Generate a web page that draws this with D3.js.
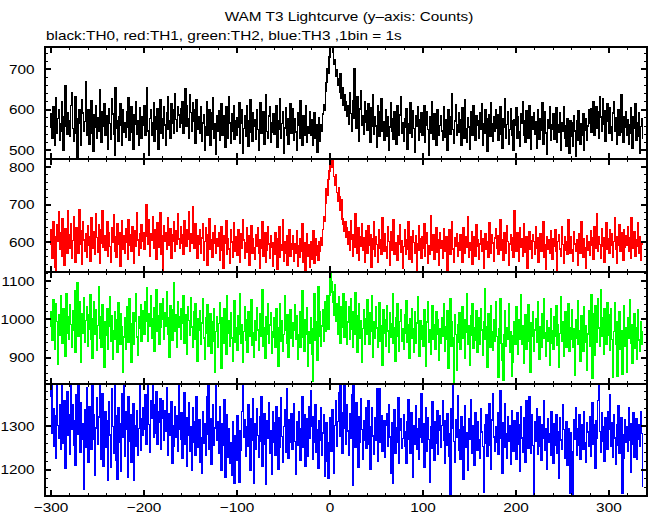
<!DOCTYPE html>
<html><head><meta charset="utf-8">
<script src="https://cdn.jsdelivr.net/npm/d3@7"></script>
<style>html,body{margin:0;padding:0;background:#fff;} svg{display:block;}</style>
</head><body><svg id="c" width="652" height="515"></svg>
<script>
const titleText = "WAM T3 Lightcurve (y\u2013axis: Counts)";
const subtitleText = "black:TH0, red:TH1, green:TH2, blue:TH3 ,1bin = 1s";
const binStart = -301;   // time of first bin (s)
const binWidth = 1;      // 1 bin = 1 s
const seriesNames = ["TH0", "TH1", "TH2", "TH3"];
const seriesColors = ["#000000", "#ff0000", "#00ff00", "#0000ff"];
const xDomain = [-306.5, 341];
const xTickLabels = [-300, -200, -100, 0, 100, 200, 300];
const yDomains = [[478, 755], [521, 822], [832, 1125], [1140, 1397]];
const yTickLabels = [[500, 600, 700], [600, 700, 800], [900, 1000, 1100], [1200, 1300]];

const th0 = [
558,590,531,608,575,513,629,543,579,600,526,566,620,548,501,583,659,559,540,593,
573,534,611,642,554,523,586,631,543,478,578,601,566,512,625,592,547,571,670,537,
562,599,516,573,622,541,498,589,557,610,531,580,548,649,569,519,596,559,614,536,
552,585,502,603,566,527,627,590,540,487,655,573,555,522,582,615,561,512,600,545,
569,533,594,557,629,524,576,607,544,503,589,564,620,540,572,513,604,555,529,582,
561,611,536,587,655,548,488,578,599,538,568,618,523,583,552,603,502,573,625,543,
579,531,608,562,512,592,631,551,572,529,615,566,599,541,639,576,547,607,587,558,
603,568,621,541,590,652,560,611,578,530,637,593,548,617,571,599,518,624,583,553,
583,543,608,522,568,589,501,559,620,537,576,600,513,552,593,629,531,566,490,585,
548,597,526,573,614,538,561,585,508,607,555,530,632,568,517,590,547,610,527,572,
537,580,557,617,517,566,599,494,554,586,534,611,561,510,573,625,544,523,592,559,
575,527,601,551,501,582,618,541,564,594,515,558,638,547,531,585,608,520,569,544,
590,540,561,611,508,573,551,628,529,566,596,493,555,604,537,578,516,571,615,541,
558,603,524,579,545,499,592,562,530,622,554,512,585,538,572,611,520,559,543,594,
538,575,513,554,593,530,563,496,545,580,523,563,548,590,612,598,645,668,702,689,
730,762,758,770,741,712,724,683,698,661,676,643,690,628,655,612,637,598,621,584,
610,565,642,591,546,623,578,701,597,554,631,572,523,602,648,563,585,539,619,569,
597,550,616,571,520,605,559,636,539,584,560,508,611,576,535,595,627,546,570,524,
566,601,534,583,501,558,617,547,579,527,594,562,515,610,552,536,587,631,543,569,
523,578,557,603,503,566,541,618,572,533,597,554,495,585,559,608,526,575,545,592,
538,571,611,519,562,596,551,488,582,543,620,565,527,590,557,512,600,573,537,561,
586,548,524,607,568,533,576,499,599,559,540,583,640,552,517,573,613,536,562,593,
544,575,513,604,565,531,625,554,520,580,558,503,596,571,538,611,550,526,585,561,
573,529,592,552,615,512,565,541,600,578,498,557,587,534,618,566,523,582,547,599,
555,587,524,571,608,540,506,579,558,628,531,564,596,515,552,603,573,537,499,576,
561,606,530,582,545,510,590,566,621,537,572,519,597,557,531,610,562,502,583,551,
592,540,571,506,600,559,527,579,550,617,516,568,594,543,491,575,555,607,526,562,
552,590,528,573,605,519,562,544,593,499,568,548,608,530,561,510,579,541,493,572,
535,567,509,586,548,485,574,524,598,553,516,565,538,590,499,549,577,525,560,601,
568,603,545,585,620,537,578,608,555,594,529,633,582,548,627,564,597,523,575,614,
573,541,604,558,526,592,621,547,580,515,571,601,537,562,636,544,519,583,557,596,
537,575,516,564,604,543,505,583,555,614,524,568,534,592,492,559,579,530
];

const th1 = [
595,632,557,654,615,532,499,647,602,682,580,625,562,662,592,539,636,609,571,685,
619,583,650,556,604,669,587,546,637,612,570,686,594,629,541,655,606,576,623,560,
643,592,615,549,665,583,627,602,566,675,612,573,646,542,597,633,684,585,616,578,
606,654,563,625,588,545,637,599,672,576,613,560,650,595,626,536,605,658,581,618,
569,636,599,553,661,592,619,574,641,609,542,629,590,678,605,564,623,584,647,602,
626,580,615,700,641,595,660,563,622,606,668,583,633,599,553,653,613,587,679,566,
617,524,644,601,625,580,665,612,591,636,557,619,602,654,576,629,595,676,608,583,
641,598,620,567,658,615,590,633,608,682,574,623,597,695,627,583,648,604,557,616,
594,632,571,611,650,550,601,637,584,538,619,662,581,605,559,626,597,644,569,609,
590,625,550,601,641,579,530,617,596,657,566,608,582,543,634,600,559,653,589,576,
613,564,632,595,546,622,584,661,605,557,598,639,573,618,539,592,644,570,608,585,
554,619,589,637,571,530,607,584,654,563,600,624,546,578,640,595,557,616,586,536,
598,566,624,589,527,610,642,559,593,577,659,548,601,570,618,538,586,632,563,596,
581,616,549,596,571,631,536,591,558,610,575,649,546,598,522,578,623,563,593,533,
602,554,584,631,543,609,565,591,550,600,575,612,591,634,668,655,704,742,725,768,
790,812,830,801,818,776,752,781,733,709,746,721,686,714,662,648,629,655,612,637,
595,627,577,658,608,562,620,587,675,602,570,637,552,613,590,650,578,611,545,630,
599,569,643,592,619,532,609,581,654,562,615,594,546,633,584,606,567,665,597,576,
622,587,557,640,602,539,627,578,611,660,566,598,583,550,616,594,647,573,604,529,
588,634,567,605,580,654,555,613,592,545,630,599,570,617,524,595,644,577,608,557,
615,583,648,562,598,626,543,590,567,671,602,578,619,555,594,639,573,606,539,625,
584,604,557,636,595,574,613,522,591,632,566,602,654,581,545,611,588,623,562,599,
577,620,592,546,639,604,569,615,585,668,559,598,578,627,541,594,613,563,646,588,
606,555,595,630,576,609,531,591,622,581,602,560,651,592,571,619,597,548,611,636,
584,616,567,599,660,578,605,552,626,590,569,643,602,538,595,620,577,611,559,683,
595,574,625,601,549,637,585,609,563,648,597,573,615,529,590,627,580,604,556,619,
602,566,641,583,611,545,592,623,576,598,655,560,594,527,615,581,605,570,630,587,
555,608,590,633,574,525,602,620,581,562,640,594,543,613,578,601,566,661,588,569,
615,580,548,627,595,574,606,538,588,622,569,654,598,559,609,584,531,617,578,602,
565,629,591,611,553,641,583,604,675,574,615,594,557,636,590,612,546,599,651,580,
609,569,634,591,622,559,602,665,581,542,613,592,646,574,625,599,552,633,587,617,
592,640,574,612,557,664,598,583,627,563,605,588,651,570,615,550,602,595
];

const th2 = [
983,1021,945,1052,970,921,1042,994,884,1011,959,1061,976,937,1029,1000,905,1068,963,1008,
947,1038,987,928,1022,972,1074,913,1005,1095,956,1045,990,888,1015,965,1056,940,997,1032,
930,1012,975,1064,949,899,1001,1047,962,1024,919,984,1085,952,1007,926,1039,977,874,993,
959,1028,921,983,1059,944,1010,895,970,1019,948,998,913,1043,965,934,1014,980,861,954,
1003,923,1033,966,941,1054,989,888,973,1017,934,994,1068,954,907,1007,977,1038,944,984,
1022,962,1046,996,1082,942,1014,983,1061,951,1001,1031,917,991,1078,969,1010,935,1040,980,
1000,1053,948,1018,982,1071,961,1005,902,1035,990,945,1024,1095,969,1012,928,1045,979,1008,
949,1028,989,1063,938,1011,970,909,1032,997,959,1056,980,926,1019,947,1040,990,892,1001,
972,1022,936,990,1055,952,895,1003,964,1038,929,979,1015,912,994,943,1028,862,969,1007,
926,989,1043,958,873,1004,938,1027,973,908,1062,965,996,931,1017,952,892,986,1049,941,
978,920,1010,961,1067,937,985,888,968,1032,945,1000,913,1021,957,980,1052,933,964,901,
996,946,1031,972,920,1014,955,989,1077,929,978,898,1007,961,1042,939,985,1018,912,969,
954,1004,927,1028,979,877,966,1041,943,996,917,961,1062,972,937,1011,902,985,1025,950,
991,931,972,1039,948,1010,896,961,1019,927,979,1074,954,916,998,962,1031,877,969,938,
1004,909,838,975,1066,945,994,893,1085,956,1019,930,983,1025,942,1045,968,1009,1063,975,
1063,1130,1098,1072,1045,1010,1090,994,1041,960,1060,1006,939,1033,980,1068,953,1000,1046,936,
993,1032,947,1053,973,926,1019,962,1070,989,914,1010,1040,952,997,888,976,1026,935,1001,
961,1050,986,934,1017,968,1061,900,994,951,1032,977,927,1010,1043,942,983,881,1024,963,
1000,931,1036,970,913,1018,954,989,1067,938,979,891,1005,1042,956,917,994,1026,944,976,
923,1012,963,1049,941,986,898,1001,952,1029,975,914,1019,937,990,1059,959,905,997,948,
983,931,1025,958,878,993,1046,941,973,910,1010,1035,947,985,923,1020,962,1000,894,975,
937,1004,957,1042,917,982,947,1022,873,969,1054,930,993,952,836,1013,961,866,986,940,
1017,921,973,1032,951,1000,899,966,1066,934,984,881,1010,958,1040,924,977,945,1022,914,
965,1003,935,1029,972,906,994,1081,949,982,874,1015,959,928,1035,968,919,998,944,1046,
955,924,848,975,1054,937,893,842,959,1022,930,979,947,1040,913,968,851,888,958,993,
935,1032,967,909,1000,949,1064,934,984,885,965,1011,921,974,1037,942,861,990,955,1021,
917,972,1002,941,1046,960,897,981,928,1015,952,1053,965,904,997,944,979,879,1028,939,
971,921,1006,956,1035,933,986,874,963,1059,943,995,904,968,1019,928,961,1041,918,978,
948,1026,926,975,853,1000,952,1049,935,970,892,1010,959,917,1033,941,983,868,962,1022,
929,989,1064,846,1014,906,1035,968,941,1054,977,931,1078,956,1003,910,1028,973,935,1043,
959,1012,920,1029,948,848,969,1043,935,994,852,953,1019,923,970,856,944,1036,930,979,
861,1004,952,1051,937,987,885,963,1014,924,977,897,1026,946,917,995,935,969
];

const th3 = [
1368,1399,1283,1340,1253,1323,1226,1394,1301,1273,1349,1247,1399,1316,1261,1359,1204,1297,1379,1278,
1326,1236,1399,1292,1349,1257,1312,1210,1372,1282,1399,1320,1240,1353,1271,1305,1156,1338,1251,1387,
1290,1217,1344,1310,1247,1399,1269,1327,1187,1296,1364,1258,1321,1399,1225,1301,1374,1208,1279,1334,
1252,1313,1175,1355,1280,1206,1386,1299,1238,1399,1323,1222,1179,1343,1262,1306,1197,1373,1274,1399,
1231,1334,1292,1184,1368,1265,1325,1217,1284,1352,1177,1301,1253,1335,1234,1295,1398,1245,1316,1278,
1341,1292,1372,1258,1326,1399,1304,1240,1357,1319,1399,1275,1348,1284,1378,1259,1332,1309,1363,1248,
1317,1359,1267,1336,1289,1387,1233,1328,1280,1311,1356,1216,1300,1255,1344,1275,1323,1243,1399,1293,
1270,1330,1227,1303,1377,1259,1320,1209,1279,1354,1243,1298,1199,1343,1262,1309,1234,1368,1286,1252,
1315,1218,1274,1192,1334,1261,1305,1233,1367,1281,1399,1247,1317,1212,1270,1350,1256,1296,1399,1268,
1310,1237,1344,1284,1199,1305,1257,1361,1183,1281,1327,1228,1294,1214,1263,1188,1309,1242,1170,1277,
1221,1324,1263,1171,1290,1245,1334,1395,1275,1315,1230,1299,1254,1349,1285,1199,1318,1268,1363,1170,
1306,1247,1340,1278,1228,1321,1265,1368,1208,1294,1328,1258,1167,1312,1272,1354,1237,1290,1190,1333,
1262,1308,1233,1344,1286,1202,1319,1251,1366,1276,1217,1299,1337,1241,1385,1282,1226,1314,1264,1328,
1246,1300,1351,1265,1190,1310,1256,1332,1280,1222,1295,1367,1251,1325,1209,1286,1316,1231,1345,1272,
1380,1299,1223,1322,1264,1350,1241,1291,1204,1312,1267,1341,1234,1284,1327,1185,1277,1307,1220,1180,
1263,1319,1243,1338,1285,1193,1301,1357,1255,1311,1377,1276,1398,1331,1238,1294,1397,1314,1259,1349,
1289,1233,1329,1273,1372,1164,1398,1308,1251,1353,1280,1206,1321,1263,1363,1292,1225,1312,1267,1341,
1249,1309,1357,1258,1201,1298,1341,1277,1236,1320,1267,1385,1219,1293,1385,1262,1324,1242,1283,1312,
1228,1302,1329,1253,1349,1275,1192,1307,1169,1285,1338,1238,1296,1263,1366,1215,1290,1318,1250,1272,
1325,1255,1288,1214,1311,1361,1270,1238,1331,1280,1182,1301,1258,1346,1246,1293,1224,1316,1274,1373,
1262,1305,1205,1284,1342,1242,1320,1269,1171,1298,1249,1356,1279,1222,1309,1260,1335,1235,1290,1324,
1252,1301,1357,1268,1214,1312,1257,1329,1282,1232,1142,1339,1294,1398,1265,1217,1314,1275,1369,1244,
1292,1225,1322,1262,1178,1299,1346,1251,1284,1200,1316,1270,1360,1239,1300,1258,1210,1330,1281,1245,
1309,1269,1226,1339,1286,1253,1148,1303,1261,1327,1232,1292,1351,1256,1202,1314,1373,1275,1243,1298,
1264,1330,1235,1292,1382,1273,1193,1307,1252,1352,1283,1227,1321,1265,1301,1212,1336,1277,1242,1313,
1285,1224,1331,1258,1303,1197,1345,1273,1241,1319,1292,1218,1359,1268,1250,1368,1298,1237,1327,1256,
1140,1310,1266,1340,1236,1290,1322,1254,1221,1302,1272,1357,1245,1294,1202,1316,1263,1283,1233,1333,
1276,1215,1305,1256,1327,1238,1286,1181,1319,1268,1246,1349,1292,1227,1273,1310,1210,1293,1262,1146,
1285,1242,1141,1314,1271,1342,1234,1293,1256,1325,1224,1303,1279,1246,1333,1263,1218,1308,1286,1253,
1321,1232,1280,1353,1259,1302,1204,1313,1272,1359,1398,1288,1241,1331,1265,1298,1219,1319,1276,1247,
1334,1292,1372,1254,1308,1229,1327,1273,1212,1302,1257,1347,1237,1286,1320,1147,1280,1227,1314,1262,
1298,1243,1343,1268,1195,1305,1259,1331,1229,1289,1316,1223,1271,1302,1253,1333,1283,1163
];

const seriesValues = [th0, th1, th2, th3];

// ---------------- drawing ----------------
const svg = d3.select("#c");
const FONT = "'Liberation Sans', Arial, Helvetica, sans-serif";
const FS = 13, SX = 1.18;
const L = 45, R = 647, T = 47, B = 496;
const ph = (B - T) / 4;
const x = d3.scaleLinear().domain(xDomain).range([L, R]);

svg.append("rect").attr("width", 652).attr("height", 515).attr("fill", "#fff");

function label(g, px, py, txt, anchor) {
  g.append("g").attr("transform", `translate(${px},${py}) scale(${SX},1)`)
    .append("text").attr("text-anchor", anchor)
    .attr("font-family", FONT).attr("font-size", FS).attr("fill", "#000")
    .text(txt);
}

const defs = svg.append("defs");
const xMinor = d3.range(Math.ceil(xDomain[0] / 20) * 20, xDomain[1] + 1e-9, 20);

seriesValues.forEach((vals, i) => {
  const y0 = T + i * ph, y1 = y0 + ph;
  const y = d3.scaleLinear().domain(yDomains[i]).range([y1, y0]);
  defs.append("clipPath").attr("id", "clip" + i)
    .append("rect").attr("x", L).attr("y", y0).attr("width", R - L).attr("height", ph);
  const pts = vals.map((v, j) => [binStart + j * binWidth, v]);
  pts.push([binStart + vals.length * binWidth, vals[vals.length - 1]]);
  const line = d3.line().x(d => x(d[0])).y(d => y(d[1])).curve(d3.curveStepAfter);
  svg.append("path").datum(pts)
    .attr("clip-path", `url(#clip${i})`)
    .attr("d", line).attr("fill", "none")
    .attr("stroke", seriesColors[i]).attr("stroke-width", 1.5)
    .attr("stroke-linejoin", "miter")
    .attr("shape-rendering", "crispEdges");

  const tg = svg.append("g").attr("stroke", "#000").attr("shape-rendering", "crispEdges");
  const yd = yDomains[i];
  d3.range(Math.ceil(yd[0] / 20) * 20, yd[1] + 1e-9, 20).forEach(v => {
    const major = v % 100 === 0;
    const len = major ? 6 : 3, sw = major ? 2 : 1;
    const yy = y(v);
    tg.append("line").attr("x1", L).attr("x2", L + len).attr("y1", yy).attr("y2", yy).attr("stroke-width", sw);
    tg.append("line").attr("x1", R).attr("x2", R - len).attr("y1", yy).attr("y2", yy).attr("stroke-width", sw);
  });
  xMinor.forEach(t => {
    const major = t % 100 === 0;
    const len = major ? 6 : 3, sw = major ? 2 : 1;
    const xx = x(t);
    tg.append("line").attr("x1", xx).attr("x2", xx).attr("y1", y0).attr("y2", y0 + len).attr("stroke-width", sw);
    tg.append("line").attr("x1", xx).attr("x2", xx).attr("y1", y1).attr("y2", y1 - len).attr("stroke-width", sw);
  });
  yTickLabels[i].forEach(v => label(svg, 34.5, y(v) + 4.6, String(v), "end"));
});

const fg = svg.append("g").attr("stroke", "#000").attr("stroke-width", 2)
  .attr("fill", "none").attr("shape-rendering", "crispEdges");
fg.append("rect").attr("x", L).attr("y", T).attr("width", R - L).attr("height", B - T);
[1, 2, 3].forEach(k => fg.append("line").attr("x1", L).attr("x2", R)
  .attr("y1", T + k * ph).attr("y2", T + k * ph));

xTickLabels.forEach(t => label(svg, x(t), 512, t < 0 ? "\u2212" + Math.abs(t) : String(t), "middle"));

label(svg, 349, 21, titleText, "middle");
label(svg, 46, 39.5, subtitleText, "start");
</script></body></html>
